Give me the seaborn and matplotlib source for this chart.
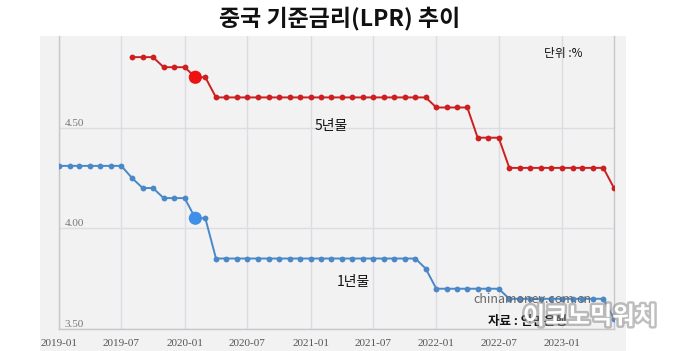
import numpy as np
import pandas as pd
import matplotlib
matplotlib.use('Agg')
import matplotlib.pyplot as plt
import matplotlib.patheffects as pe
from matplotlib.patches import Rectangle
import seaborn as sns

# China LPR, monthly from 2019-01 to 2023-06 (%)
months = pd.date_range('2019-01-01', '2023-06-01', freq='MS')
lpr_1y = [4.31, 4.31, 4.31, 4.31, 4.31, 4.31, 4.31, 4.25, 4.20, 4.20, 4.15, 4.15,
          4.15, 4.05, 4.05, 3.85, 3.85, 3.85, 3.85, 3.85, 3.85, 3.85, 3.85, 3.85,
          3.85, 3.85, 3.85, 3.85, 3.85, 3.85, 3.85, 3.85, 3.85, 3.85, 3.85, 3.80,
          3.70, 3.70, 3.70, 3.70, 3.70, 3.70, 3.70, 3.65, 3.65, 3.65, 3.65, 3.65,
          3.65, 3.65, 3.65, 3.65, 3.65, 3.55]
lpr_5y = [np.nan, np.nan, np.nan, np.nan, np.nan, np.nan, np.nan, 4.85, 4.85, 4.85, 4.80, 4.80,
          4.80, 4.75, 4.75, 4.65, 4.65, 4.65, 4.65, 4.65, 4.65, 4.65, 4.65, 4.65,
          4.65, 4.65, 4.65, 4.65, 4.65, 4.65, 4.65, 4.65, 4.65, 4.65, 4.65, 4.65,
          4.60, 4.60, 4.60, 4.60, 4.45, 4.45, 4.45, 4.30, 4.30, 4.30, 4.30, 4.30,
          4.30, 4.30, 4.30, 4.30, 4.30, 4.20]
highlight_month = '2020-02-01'
x_ticks = ['2019-01', '2019-07', '2020-01', '2020-07', '2021-01', '2021-07', '2022-01', '2022-07', '2023-01']
y_ticks = [3.50, 4.00, 4.50]

df = pd.DataFrame({'month': months, 'lpr_1y': lpr_1y, 'lpr_5y': lpr_5y})

sns.set_style('white')
kr_font = ['Noto Sans CJK KR', 'DejaVu Sans']
plt.rcParams['font.family'] = kr_font

red = '#cc1f1f'
blue = '#4a88c8'
bg = '#f2f2f3'
grid_c = '#dcdce2'

fig = plt.figure(figsize=(6.8, 3.51), dpi=100)
fig.add_artist(Rectangle((40 / 680, 0), 586 / 680, 315 / 351, transform=fig.transFigure,
                         facecolor=bg, edgecolor='none', zorder=-5))
ax = fig.add_axes([59 / 680, 22 / 351, 555 / 680, 293 / 351])
ax.set_facecolor(bg)

sns.lineplot(data=df, x='month', y='lpr_5y', ax=ax, color=red, marker='o', markersize=4.2,
             markeredgewidth=0, linewidth=1.4, zorder=3)
sns.lineplot(data=df, x='month', y='lpr_1y', ax=ax, color=blue, marker='o', markersize=4.2,
             markeredgewidth=0, linewidth=1.4, zorder=3)

hl = df[df['month'] == highlight_month]
sns.scatterplot(x=hl['month'], y=hl['lpr_5y'], ax=ax, color='#ee1111', s=90, edgecolor='none', zorder=4)
sns.scatterplot(x=hl['month'], y=hl['lpr_1y'], ax=ax, color='#3d8fe8', s=90, edgecolor='none', zorder=4)

ax.set_xlim(pd.Timestamp('2019-01-01'), pd.Timestamp('2023-06-01'))
ax.set_ylim(3.50, 4.955)

tick_dates = [pd.Timestamp(t + '-01') for t in x_ticks]
ax.set_xticks(tick_dates)
ax.set_xticklabels(x_ticks, family='Liberation Serif', fontsize=8, color='#555555')
ax.set_yticks(y_ticks)
ax.set_yticklabels(['%.2f' % v for v in y_ticks], family='Liberation Serif', fontsize=8,
                   color='#777777', ha='left', va='bottom')
ax.tick_params(axis='x', length=0, pad=7)
ax.tick_params(axis='y', length=0, pad=-4)

ax.grid(True, color=grid_c, linewidth=1.0, zorder=0)
ax.set_axisbelow(True)
for side in ['left', 'bottom', 'right']:
    ax.spines[side].set_color('#c8c8cc')
    ax.spines[side].set_linewidth(1.0)
ax.spines['top'].set_visible(False)
ax.set_xlabel('')
ax.set_ylabel('')

fig.text(0.5, 1 - 18 / 351, '중국 기준금리(LPR) 추이', ha='center', va='center',
         fontsize=16.5, fontweight='bold', color='#111111')
fig.text(563 / 680, 1 - 53 / 351, '단위 :%', ha='center', va='center', fontsize=8.5, color='#111111')
fig.text(331 / 680, 1 - 126 / 351, '5년물', ha='center', va='center', fontsize=10,
         fontweight='medium', color='#111111')
fig.text(353 / 680, 1 - 282 / 351, '1년물', ha='center', va='center', fontsize=10,
         fontweight='medium', color='#111111')
fig.text(532 / 680, 1 - 299 / 351, 'chinamoney.com.cn', ha='center', va='center', fontsize=9,
         color='#666666', zorder=6)
fig.text(527 / 680, 1 - 321 / 351, '자료 : 인민은행', ha='center', va='center', fontsize=9,
         fontweight='bold', color='#111111', zorder=6)
fig.text(590 / 680, 1 - 317 / 351, '이코노믹워치', ha='center', va='center', fontsize=17.5,
         fontweight='bold', color='white', zorder=7,
         path_effects=[pe.withStroke(linewidth=3.5, foreground='#8a8a8a', alpha=0.55)])

fig.savefig('out.png', dpi=100)
